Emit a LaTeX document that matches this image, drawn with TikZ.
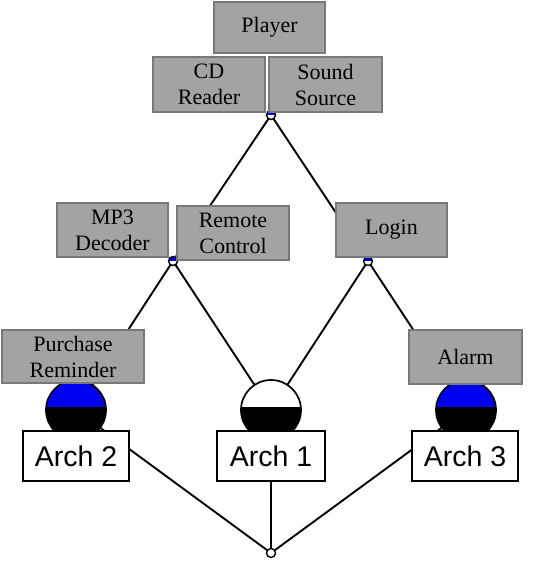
\documentclass[tikz,border=0pt]{standalone}
\usepackage{fontspec}
\setmainfont{Liberation Serif}
\newfontfamily\archfont{Liberation Sans}
\usetikzlibrary{backgrounds}
\definecolor{boxgray}{RGB}{163,163,163}
\definecolor{boxedge}{RGB}{120,120,120}
\definecolor{dotblue}{RGB}{0,0,240}
\tikzset{
  feat/.style={rectangle, fill=boxgray, draw=boxedge, line width=1.6pt, align=center,
    inner sep=0pt, font=\fontsize{22}{26}\selectfont},
  archbox/.style={rectangle, fill=white, draw=black, line width=1.7pt, inner sep=0pt,
    minimum width=106pt, minimum height=50pt, font=\archfont\fontsize{28.5}{30}\selectfont},
  bigdot/.style={circle, draw=black, line width=1.7pt, minimum size=60pt, inner sep=0pt,
    fill=#1, path picture={\fill[black] ([yshift=3pt]path picture bounding box.west) rectangle (path picture bounding box.south east);}},
  smalldot/.style={circle, draw=black, line width=1.4pt, minimum size=9pt, inner sep=0pt,
    fill=white, path picture={\fill[#1] (path picture bounding box.west) rectangle (path picture bounding box.north east);}},
  conn/.style={draw=black, line width=1.9pt}
}
\begin{document}
\begin{tikzpicture}[x=1pt,y=-1pt]
\useasboundingbox (0,0) rectangle (537,562);
% small dots
\node[smalldot=dotblue] (d0) at (271,115) {};
\node[smalldot=dotblue] (d1) at (173,261) {};
\node[smalldot=dotblue] (d2) at (368,261) {};
\node[smalldot=white] (d3) at (271,553) {};
% big dots
\node[bigdot=dotblue] (c2) at (76,410) {};
\node[bigdot=white] (c1) at (271,410) {};
\node[bigdot=dotblue] (c3) at (466,410) {};
% feature boxes
\node[feat, minimum width=111pt, minimum height=51pt] (player) at (269.5,27.5) {Player};
\node[feat, minimum width=112pt, minimum height=55pt] (cd) at (209,84.5) {CD\\Reader};
\node[feat, minimum width=113pt, minimum height=55pt] (sound) at (325.5,84.5) {Sound\\Source};
\node[feat, minimum width=111pt, minimum height=54pt] (mp3) at (112.5,230) {MP3\\Decoder};
\node[feat, minimum width=112pt, minimum height=54pt] (remote) at (233,233) {Remote\\Control};
\node[feat, minimum width=111pt, minimum height=54pt] (login) at (391.5,230) {Login};
\node[feat, minimum width=142pt, minimum height=53pt] (purchase) at (73,356.5) {Purchase\\Reminder};
\node[feat, minimum width=113pt, minimum height=54pt] (alarm) at (465.5,357) {Alarm};
% arch boxes
\node[archbox] (a2) at (76,456) {Arch 2};
\node[archbox, minimum width=108pt] (a1) at (271,456) {Arch 1};
\node[archbox] (a3) at (465,456) {Arch 3};
% connectors
\begin{scope}[on background layer]
\draw[conn] (d0.center) -- (d1.center);
\draw[conn] (d0.center) -- (d2.center);
\draw[conn] (d1.center) -- (c2.center);
\draw[conn] (d1.center) -- (c1.center);
\draw[conn] (d2.center) -- (c1.center);
\draw[conn] (d2.center) -- (c3.center);
\draw[conn] (d3.center) -- (c2.center);
\draw[conn] (d3.center) -- (c1.center);
\draw[conn] (d3.center) -- (c3.center);
\end{scope}
\end{tikzpicture}
\end{document}
